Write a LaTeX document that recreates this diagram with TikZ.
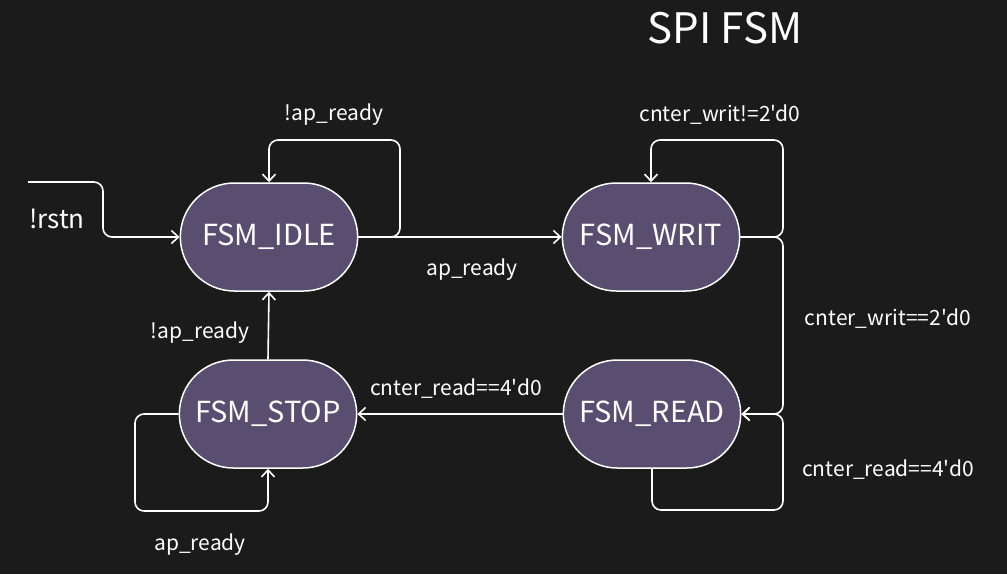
\documentclass[tikz,border=0pt]{standalone}
\usepackage{fontspec}
\newfontfamily\uifont{Noto Sans CJK SC}
\usetikzlibrary{positioning, arrows.meta, shapes.misc}
\definecolor{bgdark}{RGB}{27,27,27}
\definecolor{statefill}{RGB}{89,78,112}

\begin{document}
\begin{tikzpicture}[x=1pt,y=-1pt]
	\tikzstyle{state}=[rounded rectangle, draw=white, line width=1.5pt, fill=statefill, text=white, minimum width=184pt, minimum height=108pt, font=\uifont\fontsize{29}{34}\selectfont]
	\tikzstyle{trans}=[draw=white, line width=1.6pt, rounded corners=9pt, -{Straight Barb[length=7pt,width=13pt]}]
	\tikzstyle{lbl}=[text=white, font=\uifont\fontsize{21}{25}\selectfont]
	\fill[bgdark] (0,0) rectangle (1007,574);
	\node[text=white, font=\uifont\fontsize{42}{48}\selectfont] (title) at (725,28) {SPI FSM};
	\node[state] (idle) at (269,237) {FSM\_IDLE};
	\node[state] (writ) at (651,237) {FSM\_WRIT};
	\node[state] (read) at (652,414) {FSM\_READ};
	\node[state] (stop) at (268,414) {FSM\_STOP};
	\coordinate (rstn) at (28,182);
	\draw[trans] (rstn) -| (103,237) -- (idle);
	\draw[trans] (idle.east) -| (400,140) -| (idle.north);
	\draw[trans] (idle.east) -- (writ.west);
	\draw[trans] (writ.east) -| (783,140) -| (writ.north);
	\draw[trans] (writ.east) -| (783,414) -- (read.east);
	\draw[trans] (read.south) |- (783,510) |- (read.east);
	\draw[trans] (read.west) -- (stop.east);
	\draw[trans] (stop.north) -- (idle.south);
	\draw[trans] (stop.west) -| (135,511) -| (stop.south);
	\node[lbl, font=\uifont\fontsize{26}{30}\selectfont] (l1) at (57,219) {!rstn};
	\node[lbl] (l2) at (334,115) {!ap\_ready};
	\node[lbl] (l3) at (472,270) {ap\_ready};
	\node[lbl] (l4) at (720,115) {cnter\_writ!=2'd0};
	\node[lbl] (l5) at (888,319) {cnter\_writ==2'd0};
	\node[lbl] (l6) at (888,470) {cnter\_read==4'd0};
	\node[lbl] (l7) at (456,389) {cnter\_read==4'd0};
	\node[lbl] (l8) at (200,333) {!ap\_ready};
	\node[lbl] (l9) at (200,545) {ap\_ready};
\end{tikzpicture}
\end{document}
